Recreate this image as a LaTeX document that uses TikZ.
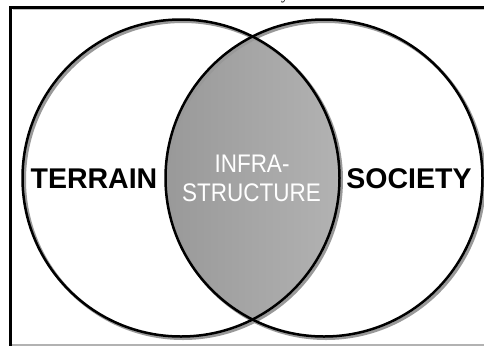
\documentclass[tikz,border=0pt]{standalone}
\usepackage{fontspec}
\usepackage{graphicx}
\setmainfont{Liberation Sans}
\newfontfamily\serifcap{Liberation Serif}
\newcommand{\tallish}[1]{\scalebox{1}[1.13]{#1}}
\tikzset{
  circ/.style={draw=black, line width=2.5pt},
  shadowline/.style={draw=black!40, line width=3pt},
  outerlabel/.style={font=\fontsize{28.5}{32}\selectfont\bfseries, text=black, inner sep=0pt},
  innerlabel/.style={font=\fontsize{22.5}{29}\selectfont, text=white, align=center, inner sep=0pt},
}
\begin{document}
\begin{tikzpicture}[x=1pt,y=-1pt]
\useasboundingbox (0,0) rectangle (484,346);
\fill[white] (0,0) rectangle (484,346);
% frame
\draw[black!25, line width=1pt] (12.5,9.6) -- (484,9.6);
\draw[black!30, line width=1.2pt] (12,345) -- (484,345);
\draw[black, line width=2.7pt] (9,7.3) -- (484,7.3);
\draw[black, line width=3pt] (10.5,6) -- (10.5,346);
% partial title
\node[font=\serifcap\fontsize{16}{18}\selectfont, anchor=base, inner sep=0pt] (title) at (285,-0.6) {y};
% circle centres
\coordinate (cl) at (181,178);
\coordinate (cr) at (324,178);
% lens
\begin{scope}
  \clip (cl) circle (158.5);
  \shade[left color=black!40, right color=black!22] (cr) circle (158.5);
\end{scope}
% shadows
\draw[shadowline] ([shift={(2,2)}]cl) circle (158.5);
\draw[shadowline] ([shift={(2,2)}]cr) circle (158.5);
% outlines
\draw[circ] (cl) circle (158.5);
\draw[circ] (cr) circle (158.5);
% labels
\node[outerlabel, anchor=base] (terrain) at (94,188) {TERRAIN};
\node[outerlabel, anchor=base] (society) at (409,188) {SOCIETY};
\node[innerlabel, anchor=base] (infra) at (252,172.7) {\tallish{INFRA-}};
\node[innerlabel, anchor=base] (structure) at (251.5,201.7) {\tallish{STRUCTURE}};
\end{tikzpicture}
\end{document}
